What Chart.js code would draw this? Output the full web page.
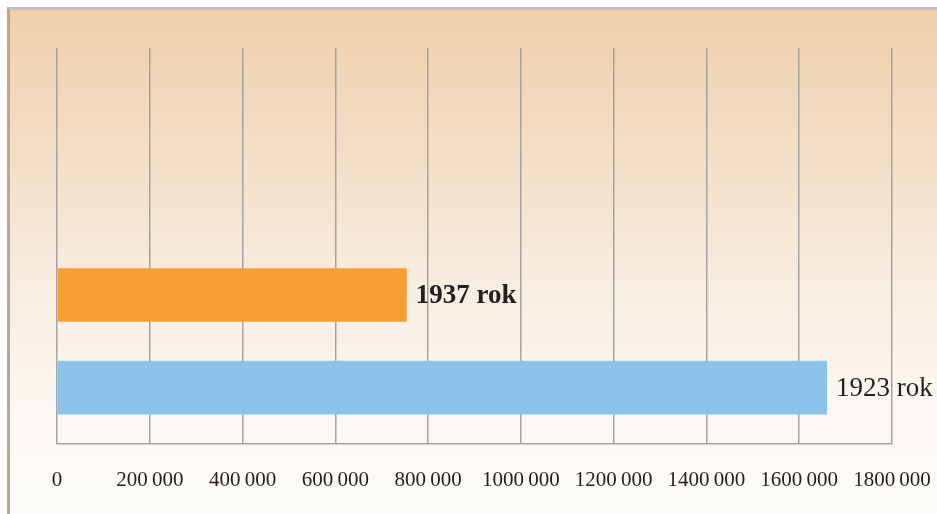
<!DOCTYPE html>
<html>
<head>
<meta charset="utf-8">
<script src="https://cdn.jsdelivr.net/npm/chart.js@4.4.0/dist/chart.umd.min.js"></script>
<style>
    html, body { margin: 0; padding: 0; background: #ffffff; }
    #page { position: relative; width: 937px; height: 514px; overflow: hidden; }
    #panel {
        position: absolute; left: 7px; top: 7px; right: 0; bottom: 0;
        border-top: 3px solid #c2c1c3;
        border-left: 3px solid #b9a590;
        background: linear-gradient(to bottom, #efcfac 0%, #f3dfc8 30%, #f8ede1 55%, #fcf8f3 80%, #fdfcfa 100%);
    }
    #chart { position: absolute; left: 0; top: 0; }
</style>
</head>
<body>
<div id="page">
    <div id="panel"></div>
    <canvas id="chart" width="937" height="514"></canvas>
</div>
<script>
// Chart data
const categories = ['', '', '1937 rok', '1923 rok'];
const values = [null, null, 754000, 1660000];
const barColors = ['#f79e34', '#f79e34', '#f79e34', '#8cc3ea'];
const labelWeights = ['bold', 'bold', 'bold', 'normal'];
const xTicks = [0, 200000, 400000, 600000, 800000, 1000000, 1200000, 1400000, 1600000, 1800000];

const gridColor = '#a3a3a3';

// "1200000" -> "1200 000" (only the last group split, as in the original)
function formatNumber(value) {
    const s = String(value);
    if (s.length <= 3) return s;
    return s.slice(0, -3) + '\u2009' + s.slice(-3);
}

// Draws the category name right of each bar
const barLabels = {
    id: 'barLabels',
    afterDatasetsDraw(chart) {
        const ctx = chart.ctx;
        const meta = chart.getDatasetMeta(0);
        ctx.save();
        ctx.fillStyle = '#231f20';
        ctx.textBaseline = 'middle';
        ctx.textAlign = 'left';
        meta.data.forEach(function(bar, i) {
            if (values[i] === null) return;
            ctx.font = labelWeights[i] + ' 27px "Liberation Serif", serif';
            ctx.fillText(categories[i], bar.x + 9, bar.y + 1);
        });
        ctx.restore();
    }
};

new Chart(document.getElementById('chart'), {
    type: 'bar',
    data: {
        labels: categories,
        datasets: [{
            data: values,
            backgroundColor: barColors,
            borderWidth: 0,
            categoryPercentage: 1,
            barPercentage: 0.58
        }]
    },
    options: {
        indexAxis: 'y',
        responsive: false,
        animation: false,
        layout: {
            padding: { left: 57, right: 45, top: 48, bottom: 22 }
        },
        plugins: {
            legend: { display: false },
            tooltip: { enabled: false }
        },
        scales: {
            x: {
                min: 0,
                max: 1800000,
                afterBuildTicks: function(scale) {
                    scale.ticks = xTicks.map(v => ({ value: v }));
                },
                afterFit: function(scale) {
                    scale.height = 48;
                    scale.paddingLeft = 0;
                    scale.paddingRight = 0;
                },
                grid: {
                    color: gridColor,
                    lineWidth: 1.5,
                    drawTicks: false
                },
                border: {
                    display: true,
                    color: gridColor,
                    width: 1.5
                },
                ticks: {
                    padding: 24,
                    color: '#231f20',
                    font: { family: '"Liberation Serif", serif', size: 21 },
                    maxRotation: 0,
                    autoSkip: false,
                    callback: function(value) {
                        return formatNumber(value);
                    }
                }
            },
            y: {
                display: false,
                offset: true,
                grid: { display: false },
                // widen the category band a bit so the bars sit where the original has them
                afterBuildTicks: function(scale) {
                    scale._valueRange = 4.28;
                    scale._startValue = -0.67;
                }
            }
        }
    },
    plugins: [barLabels]
});
</script>
</body>
</html>
